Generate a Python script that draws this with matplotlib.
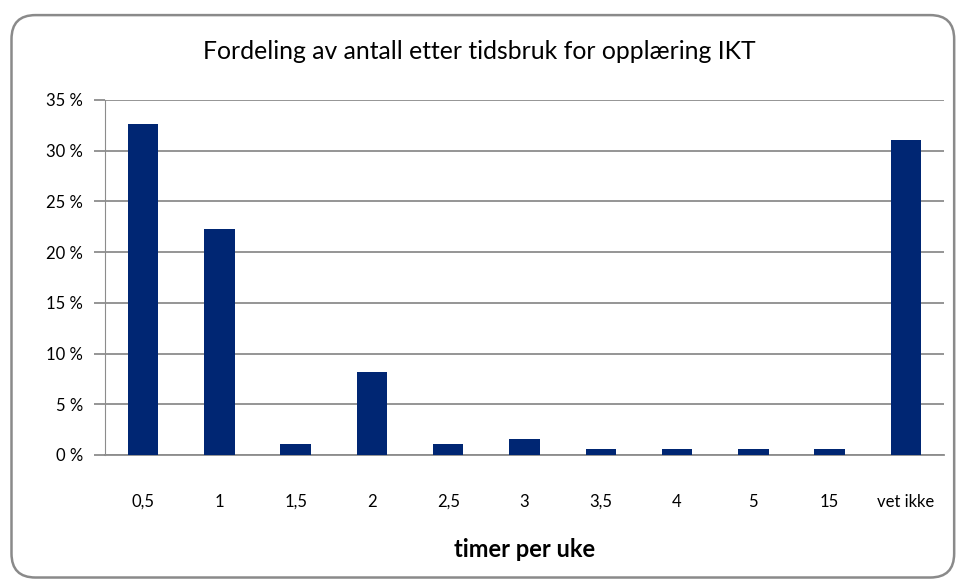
import matplotlib.pyplot as plt
from matplotlib.patches import FancyBboxPatch
from matplotlib.ticker import FuncFormatter

categories = ["0,5", "1", "1,5", "2", "2,5", "3", "3,5", "4", "5", "15", "vet ikke"]
shares = [32.6, 22.3, 1.1, 8.2, 1.1, 1.6, 0.6, 0.6, 0.6, 0.6, 31.1]
y_ticks = [0, 5, 10, 15, 20, 25, 30, 35]

plt.rcParams["font.family"] = ["Lato", "DejaVu Sans"]
grid_color = "#8c8c8c"

fig = plt.figure(figsize=(9.58, 5.81), dpi=100)

# Rounded outer frame
frame = FancyBboxPatch(
    (0.012, 0.006), 0.984, 0.968,
    boxstyle="round,pad=0,rounding_size=0.025",
    transform=fig.transFigure, facecolor="none",
    edgecolor="#8a8a8a", linewidth=1.8, mutation_aspect=958 / 581,
)
fig.patches.append(frame)

ax = fig.add_axes([0.1096, 0.2169, 0.8758, 0.611])
ax.bar(range(len(categories)), shares, width=0.4, color="#002673", zorder=3)

ax.set_xlim(-0.5, len(categories) - 0.5)
ax.set_ylim(0, 35)
ax.set_yticks(y_ticks)
ax.yaxis.set_major_formatter(FuncFormatter(lambda v, p: f"{int(v)} %"))
ax.set_xticks(range(len(categories)))
ax.set_xticklabels(categories)

ax.grid(axis="y", color=grid_color, linewidth=1.3, zorder=0)
for side in ["top", "right"]:
    ax.spines[side].set_visible(False)
ax.spines["left"].set_color(grid_color)
ax.spines["bottom"].set_color(grid_color)
ax.spines["bottom"].set_linewidth(1.3)
ax.tick_params(axis="y", length=8, color=grid_color, width=1.3, labelsize=12, pad=8)
ax.tick_params(axis="x", length=0, labelsize=12, pad=28)

ax.set_xlabel("timer per uke", fontsize=17, fontweight="bold", labelpad=20)
fig.text(0.5, 0.912, "Fordeling av antall etter tidsbruk for opplæring IKT",
         ha="center", va="center", fontsize=17.8)

fig.savefig("out.png", dpi=100)
